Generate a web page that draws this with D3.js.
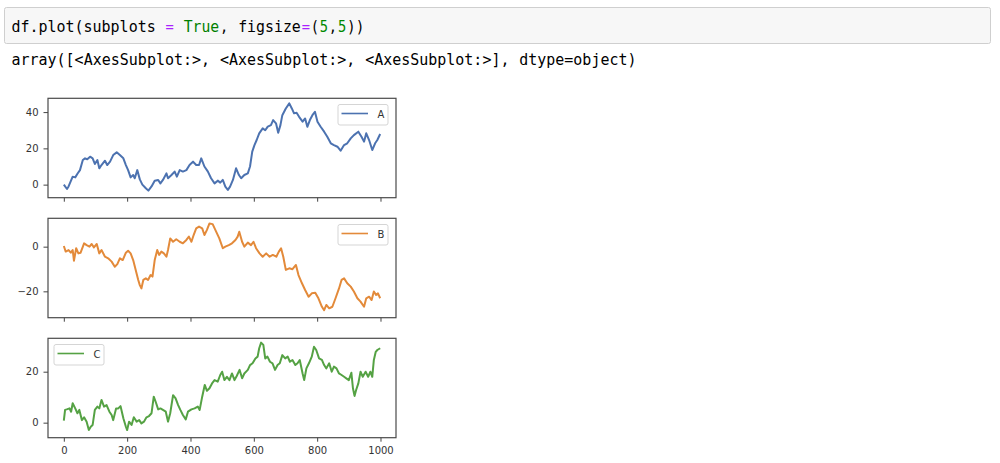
<!DOCTYPE html>
<html>
<head>
<meta charset="utf-8">
<script src="https://cdn.jsdelivr.net/npm/d3@7"></script>
<style>
  html, body { margin: 0; padding: 0; background: #fff; }
  svg { display: block; }
</style>
</head>
<body>
<svg id="chart" width="1000" height="463"></svg>
<script>
// ---------------- data ----------------
const seriesNames = ["A", "B", "C"];
const xTicks = [0, 200, 400, 600, 800, 1000];
const xDomain = [-49.95, 1048.95];

const yTicksA = [0, 20, 40];
const yTicksB = [-20, 0];
const yTicksC = [0, 20];
const yDomainA = [-7.2, 47.6];
const yDomainB = [-31.8, 12.7];
const yDomainC = [-5.9, 33.1];

const seriesA = [[0,0],[10,-2.4],[15,-1],[28,4.4],[36,4],[43,6],[51,8],[60,13.6],[67,14.5],[74,14],[83,15.4],[91,14.5],[98,11.4],[106,13.6],[112,9],[119,10.8],[130,13.2],[137,10.8],[146,12.7],[156,16.3],[167,17.8],[177,16.3],[188,14.5],[196,10.8],[203,8],[211,4],[219,5.3],[224,3.5],[232,8],[240,2.9],[248,0],[259,-2],[267,-3.3],[277,-1],[287,2.2],[298,2.6],[305,0.7],[313,2.6],[324,6.2],[329,3.5],[340,5.3],[350,7.2],[357,4.4],[366,8],[376,7.2],[387,8],[397,10.8],[408,12.7],[418,10.8],[427,10.8],[434,14.5],[444,10],[455,7.2],[465,3.5],[476,0.7],[486,2.2],[494,1.1],[502,2.6],[510,-1.1],[518,-2.9],[525,-1.1],[534,2.6],[544,9],[553,5.3],[560,3.5],[570,5.3],[581,6.2],[588,10],[595,18.2],[602,21.8],[609,24.6],[617,28.3],[628,31],[636,30],[644,32],[654,32.8],[661,35.6],[670,33.8],[677,28.6],[684,32.8],[690,38.3],[701,42],[712,44.8],[720,42],[727,39.3],[735,39.6],[743,37.4],[754,34.7],[762,36.5],[769,31.9],[777,35.6],[785,38.3],[793,40.2],[801,34.7],[811,31.9],[822,29.2],[832,26.4],[843,22.8],[853,21.8],[864,20.9],[874,18.7],[885,21.8],[895,22.8],[906,25.5],[916,27.3],[930,29.2],[940,26.4],[948,23.7],[955,28.3],[964,24.6],[974,19.1],[983,22.8],[990,24.6],[999,27.9]];

const seriesB = [[0,0.3],[6,-2.2],[15,-1.5],[22,-2.7],[28,-1.5],[32,-6.3],[39,-0.7],[46,-3],[53,-2.7],[64,1.5],[72,0.7],[81,0],[88,1.2],[95,-0.3],[104,1.2],[112,-3],[119,-1.5],[130,-4.5],[140,-5.2],[151,-6.7],[161,-9],[169,-7.8],[177,-5.2],[186,-6],[196,-2.7],[203,-1.8],[211,-3],[219,-6],[227,-10.4],[235,-14.9],[240,-17.2],[245,-18.7],[251,-14.9],[259,-14.2],[266,-14.9],[274,-12.7],[280,-13.4],[287,-6],[295,-1.5],[301,-3.7],[308,-2.2],[316,-3],[324,-4.5],[329,-1.5],[336,3.7],[345,2.2],[355,3.3],[366,2.2],[376,1.5],[387,3],[395,4.5],[403,2.2],[410,5.2],[418,8.2],[427,9],[437,8.2],[444,5.2],[452,7.5],[460,10.4],[470,10.1],[481,6.7],[491,3.7],[502,-0.7],[510,0],[521,0.7],[531,1.5],[542,3],[549,4.5],[554,6.7],[563,2.2],[570,0],[581,1.8],[591,0.7],[599,2.2],[607,-0.7],[618,-3],[628,-4.5],[639,-3],[650,-4.5],[660,-3.7],[671,-4.5],[679,-2.2],[686,-0.7],[693,-4.5],[701,-10.4],[712,-9.7],[722,-10.1],[733,-8.2],[741,-12.7],[752,-16.4],[762,-19.4],[773,-22.4],[783,-20.9],[794,-20.6],[804,-23.1],[815,-26.9],[822,-28.4],[829,-26.1],[838,-27.6],[848,-26.9],[858,-23.1],[869,-18.7],[877,-14.9],[885,-14.2],[895,-16.4],[906,-17.9],[916,-20.1],[927,-23.1],[937,-24.6],[948,-26.9],[955,-23.1],[964,-22.4],[972,-23.9],[979,-20.1],[986,-21.6],[992,-20.9],[999,-23.1]];

const seriesC = [[0,0.8],[4,5],[9,5.2],[18,5.6],[23,4.3],[28,7.6],[36,5.6],[43,3.7],[49,5],[57,1],[64,2.1],[72,0.4],[79,-2.9],[85,-1.6],[91,-0.9],[98,5],[106,6.3],[112,5.6],[119,8.9],[127,6.3],[135,6.9],[144,4.3],[151,3],[156,1],[165,5.6],[172,5.6],[179,6.5],[188,1.7],[196,-1.6],[200,-2.9],[206,0.4],[214,-0.9],[221,2.1],[230,0.4],[238,1],[245,-0.3],[253,0.4],[261,2.1],[269,2.6],[277,3.7],[284,10.2],[290,8.2],[298,5.2],[305,5.6],[313,5],[322,4.3],[329,0.4],[336,3.7],[345,10.8],[353,9.5],[361,6.9],[368,5],[376,3],[385,1.3],[392,4.3],[403,5.2],[413,5.6],[423,6.3],[429,5],[437,10.2],[445,14.8],[452,12.5],[460,13.5],[468,15.4],[476,16.7],[486,16.1],[494,18.7],[500,20],[507,16.7],[515,18],[523,16.7],[531,19.3],[539,16.7],[546,18.3],[555,20.7],[563,17.4],[570,19.3],[581,20.7],[588,22.6],[596,23.3],[605,25.2],[612,25.9],[617,29.2],[623,31.4],[630,30.5],[636,25.2],[643,25.9],[651,23.9],[659,23.3],[667,20.7],[675,22.6],[682,23.3],[690,26.5],[699,25.2],[707,25.9],[714,23.9],[722,24.6],[731,22.6],[738,23.3],[745,24.6],[754,19.3],[759,16.7],[766,21.3],[774,23.3],[783,25.9],[790,29.8],[797,28.5],[806,25.2],[815,24.6],[822,22.6],[829,21.3],[838,23.3],[846,20],[853,22],[861,21.3],[869,19.3],[877,18.7],[885,18],[892,17.4],[900,16.7],[908,19.6],[913,13.5],[918,10.5],[923,12.8],[930,15.4],[937,20],[944,18],[953,20],[961,18],[968,20],[974,18],[979,24.6],[985,27.8],[990,28.5],[999,29.2]];

const codeLine = [
  ["df.plot(subplots ", "#000"], ["=", "#aa22ff"], [" ", "#000"],
  ["True", "#008000"], [", figsize", "#000"], ["=", "#aa22ff"],
  ["(", "#000"], ["5", "#008800"], [",", "#000"], ["5", "#008800"], ["))", "#000"]
];
const outputLine = "array([<AxesSubplot:>, <AxesSubplot:>, <AxesSubplot:>], dtype=object)";

// ---------------- drawing ----------------
const svg = d3.select("#chart");
const colors = ["#4c72b0", "#e38a3a", "#55a244"];
const tickFont = "'DejaVu Sans', sans-serif";
const monoFont = "'DejaVu Sans Mono', 'Liberation Mono', monospace";

// code cell
svg.append("rect").attr("x", 4.5).attr("y", 7.5).attr("width", 986).attr("height", 36)
  .attr("rx", 2).attr("fill", "#f7f7f7").attr("stroke", "#cfcfcf").attr("stroke-width", 1);

const cw = 9.07, x0 = 11;
function drawMono(segments, baseline) {
  let pos = 0;
  segments.forEach(([txt, col]) => {
    const re = /\S+/g; let m;
    while ((m = re.exec(txt)) !== null) {
      svg.append("text")
        .attr("x", x0 + (pos + m.index) * cw + 0.4).attr("y", baseline)
        .attr("textLength", m[0].length * cw - 0.8).attr("lengthAdjust", "spacingAndGlyphs")
        .attr("font-family", monoFont).attr("font-size", 15)
        .attr("fill", col).text(m[0]);
    }
    pos += txt.length;
  });
}
drawMono(codeLine, 32);
drawMono([[outputLine, "#000"]], 64.5);

// subplots
const plotLeft = 48, plotRight = 396, plotH = 99.4;
const panelTops = [98.3, 218.3, 338.3];
const allSeries = [seriesA, seriesB, seriesC];
const yDomains = [yDomainA, yDomainB, yDomainC];
const yTicksAll = [yTicksA, yTicksB, yTicksC];

const x = d3.scaleLinear().domain(xDomain).range([plotLeft, plotRight]);

allSeries.forEach((data, k) => {
  const top = panelTops[k], bottom = top + plotH;
  const y = d3.scaleLinear().domain(yDomains[k]).range([bottom, top]);
  const g = svg.append("g");

  // line
  g.append("path").datum(data)
    .attr("fill", "none").attr("stroke", colors[k]).attr("stroke-width", 2)
    .attr("stroke-linejoin", "round")
    .attr("d", d3.line().x(d => x(d[0])).y(d => y(d[1])));

  // y axis
  const ya = g.append("g").attr("transform", `translate(${plotLeft},0)`)
    .call(d3.axisLeft(y).tickValues(yTicksAll[k]).tickSize(4.5).tickPadding(5).tickFormat(d3.format("d")));
  ya.select(".domain").remove();
  ya.selectAll("line").attr("stroke", "#444");
  ya.selectAll("text").attr("font-family", tickFont).attr("font-size", 10).attr("fill", "#333");

  // x axis
  const xa = g.append("g").attr("transform", `translate(0,${bottom})`)
    .call(d3.axisBottom(x).tickValues(xTicks).tickSize(4).tickPadding(5.5)
      .tickFormat(k === 2 ? d3.format("d") : () => ""));
  xa.select(".domain").remove();
  xa.selectAll("line").attr("stroke", "#444");
  xa.selectAll("text").attr("font-family", tickFont).attr("font-size", 10).attr("fill", "#333");

  // frame
  g.append("rect").attr("x", plotLeft).attr("y", top)
    .attr("width", plotRight - plotLeft).attr("height", plotH)
    .attr("fill", "none").attr("stroke", "#4a4a4a").attr("stroke-width", 1.2);

  // legend
  const lw = 50, lh = 20.5;
  const lx = k === 2 ? plotLeft + 6 : plotRight - 8 - lw;
  const ly = top + 6.2;
  const lg = g.append("g").attr("transform", `translate(${lx},${ly})`);
  lg.append("rect").attr("width", lw).attr("height", lh).attr("rx", 2)
    .attr("fill", "#fff").attr("fill-opacity", 0.8).attr("stroke", "#d5d5d5").attr("stroke-width", 1);
  lg.append("line").attr("x1", 3.5).attr("x2", 30).attr("y1", 9).attr("y2", 9)
    .attr("stroke", colors[k]).attr("stroke-width", 1.6);
  lg.append("text").attr("x", 39.5).attr("y", 13.2)
    .attr("font-family", tickFont).attr("font-size", 10).attr("fill", "#333")
    .text(seriesNames[k]);
});
</script>
</body>
</html>
